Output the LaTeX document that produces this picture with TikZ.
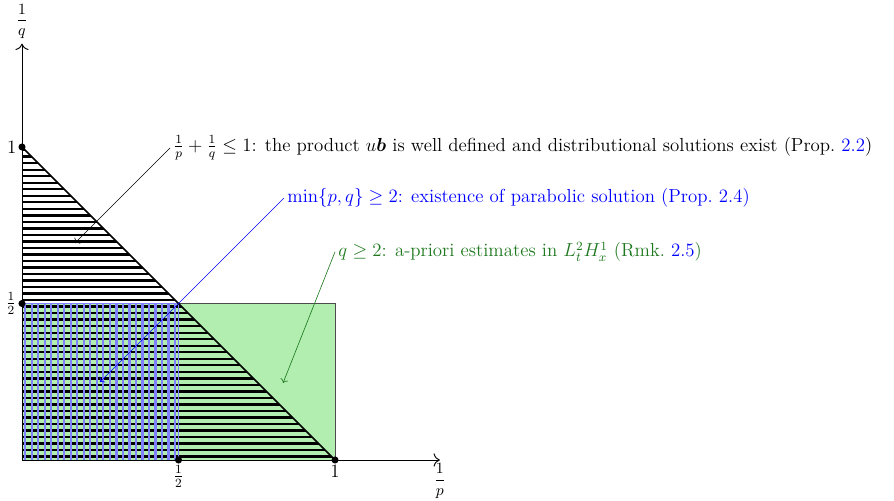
\documentclass[tikz,border=0pt]{standalone}
\usepackage{amsmath,amssymb,bm}
\usetikzlibrary{arrows.meta}
\definecolor{regiongreen}{RGB}{178,238,176}
\definecolor{textgreen}{RGB}{30,120,30}
\definecolor{hatchblue}{RGB}{128,128,255}
\tikzset{
  dotmark/.style={circle,fill=black,inner sep=0pt,minimum size=4.5pt},
  hatchline/.style={line width=1.5pt,black},
  vhatch/.style={line width=1.4pt,hatchblue},
  lbl/.style={anchor=west,inner sep=2pt,font=\large},
  ptr/.style={-{To[length=2.5pt]},line width=0.4pt}
}
\begin{document}
\begin{tikzpicture}[x=7cm,y=7cm]
\useasboundingbox (-0.0703,-0.1278) rectangle (2.7859,1.4696);
% green region
\fill[regiongreen] (0,0) rectangle (1,0.5);
\draw[black!70,line width=0.4pt] (0,0) rectangle (1,0.5);
% horizontal hatching in triangle
\begin{scope}
\clip (0,0) -- (1,0) -- (0,1) -- cycle;
\foreach \k in {1,...,48} {
  \draw[hatchline] (0,\k/48-0.01) -- (1,\k/48-0.01);
}
\end{scope}
% vertical blue hatching in square
\begin{scope}
\clip (0,0) rectangle (0.5,0.5);
\foreach \k in {0,...,24} {
  \draw[vhatch] (\k/48+0.01,0) -- (\k/48+0.01,0.5);
}
\end{scope}
\draw[hatchblue,line width=0.5pt] (0,0) rectangle (0.5,0.5);
% triangle boundary
\draw[line width=1pt] (0,1) -- (1,0);
% axes
\draw[-{To[length=4pt]},line width=0.6pt] (0,0) -- (1.335,0) node[below,inner sep=2pt] (xl) {$\dfrac{1}{p}$};
\draw[-{To[length=4pt]},line width=0.6pt] (0,0) -- (0,1.33) node[above,inner sep=3pt] (yl) {$\dfrac{1}{q}$};
% ticks
\node[dotmark] (y1) at (0,1) {};
\node[dotmark] (yh) at (0,0.5) {};
\node[dotmark] (xh) at (0.5,0) {};
\node[dotmark] (x1) at (1,0) {};
\node[left,inner sep=1pt,font=\large] (ly1) at (y1.west) {$1$};
\node[left,inner sep=1pt,font=\large] (lyh) at (yh.west) {$\frac12$};
\node[below,inner sep=1pt,font=\large] (lxh) at (xh.south) {$\frac12$};
\node[below,inner sep=1pt,font=\large] (lx1) at (x1.south) {$1$};
% labels and pointers
\node[lbl] (t1) at (0.473,0.997) {$\frac1p+\frac1q\leq1$: the product $u\bm{b}$ is well defined and distributional solutions exist (Prop.~\textcolor{blue}{2.2})};
\coordinate (e1) at (0.169,0.693);
\draw[ptr,black] (t1.west) -- (e1);
\node[lbl,text=blue] (t2) at (0.837,0.837) {$\min\{p,q\}\geq2$: existence of parabolic solution (Prop.~2.4)};
\coordinate (e2) at (0.249,0.249);
\draw[ptr,blue] (t2.west) -- (e2);
\node[lbl,text=textgreen] (t3) at (1.0,0.665) {$q\geq2$: a-priori estimates in $L^2_tH^1_x$ (Rmk.~\textcolor{blue}{2.5})};
\coordinate (e3) at (0.834,0.246);
\draw[ptr,textgreen] (t3.west) -- (e3);
\end{tikzpicture}
\end{document}
